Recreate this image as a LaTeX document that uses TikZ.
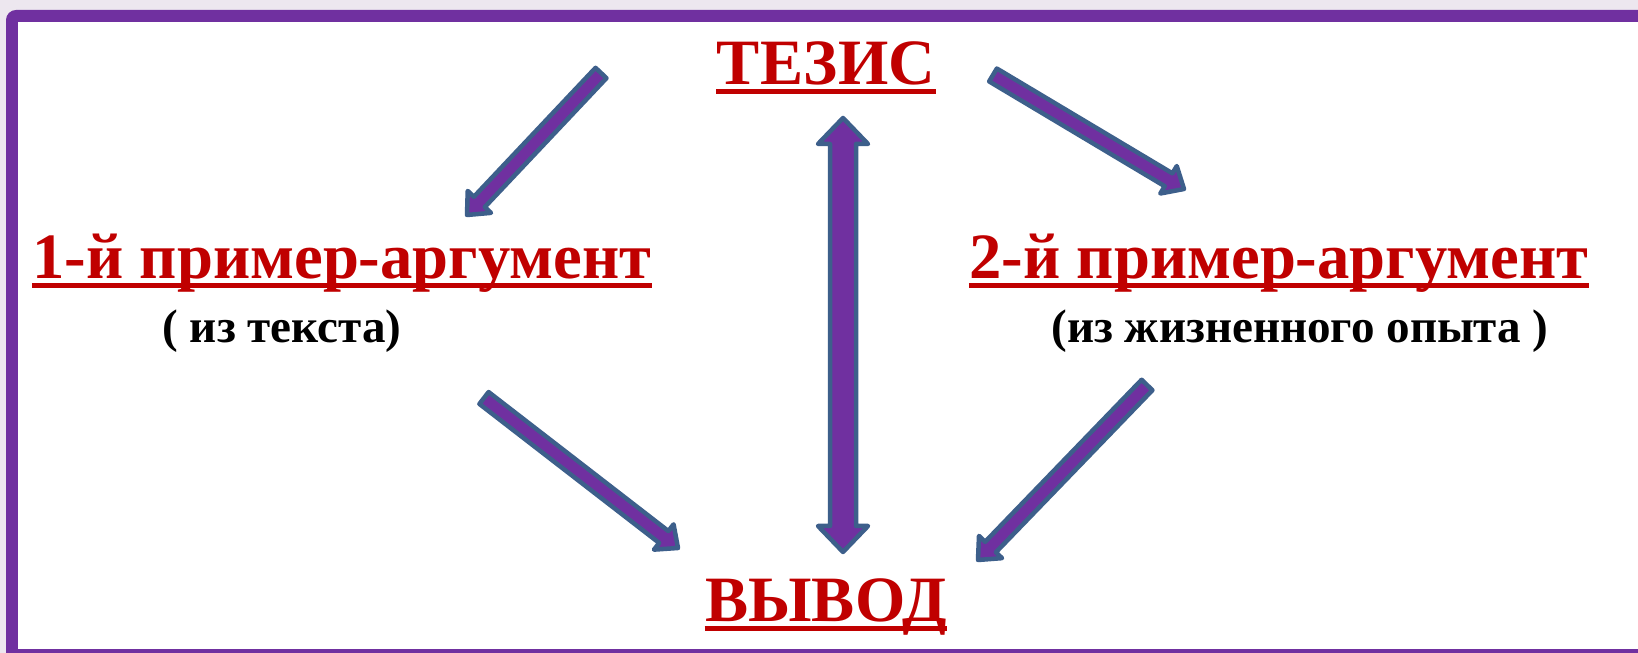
\documentclass[tikz,border=0pt]{standalone}
\usepackage{fontspec}
\setmainfont{Liberation Serif}
\usetikzlibrary{calc}
\definecolor{framepurple}{HTML}{7030A0}
\definecolor{arrowfill}{HTML}{7030A0}
\definecolor{arrowedge}{HTML}{3D5F8B}
\definecolor{headred}{HTML}{C00000}
\definecolor{outside}{HTML}{EDE7EF}
\tikzset{
	head/.style={text=headred, font=\bfseries\fontsize{18.4}{20}\selectfont, inner sep=0, anchor=base},
	sub/.style={text=black, font=\bfseries\fontsize{13.4}{15}\selectfont, inner sep=0, anchor=base},
	uline/.style={draw=headred, line width=0.5mm},
	barrow/.style={fill=arrowfill, draw=arrowedge, line width=0.45mm, line join=round}
}
\newcommand{\blockarrow}[5]{%
	\coordinate (h) at ($(#2)!#5!(#1)$);
	\filldraw[barrow] ($(#1)!#3!-90:(#2)$) -- ($(h)!#3!90:(#1)$) -- ($(h)!#4!90:(#1)$) -- (#2)
		-- ($(h)!#4!-90:(#1)$) -- ($(h)!#3!-90:(#1)$) -- ($(#1)!#3!90:(#2)$) -- cycle;
}
\newcommand{\dblockarrow}[5]{%
	\coordinate (h1) at ($(#1)!#5!(#2)$);
	\coordinate (h2) at ($(#2)!#5!(#1)$);
	\filldraw[barrow] (#1) -- ($(h1)!#4!-90:(#2)$) -- ($(h1)!#3!-90:(#2)$) -- ($(h2)!#3!90:(#1)$)
		-- ($(h2)!#4!90:(#1)$) -- (#2) -- ($(h2)!#4!-90:(#1)$) -- ($(h2)!#3!-90:(#1)$)
		-- ($(h1)!#3!90:(#2)$) -- ($(h1)!#4!90:(#2)$) -- cycle;
}
\begin{document}
\begin{tikzpicture}[x=0.1mm, y=-0.1mm]
		\useasboundingbox (0,0) rectangle (1638,653);
		\fill[outside] (0,0) rectangle (1638,653);
		\fill[framepurple, rounded corners=1mm] (6,10) rectangle (1700,700);
		\fill[white] (18,22) rectangle (1700,649);
		\path (826,85) node(tezis)[head]{ТЕЗИС}
		(342,279) node(arg1)[head]{1-й пример-аргумент\ }
		(282,343) node(src1)[sub]{( из текста)}
		(1279,279) node(arg2)[head]{2-й пример-аргумент}
		(1300,343) node(src2)[sub]{(из жизненного опыта )}
		(826,622) node(vyvod)[head]{ВЫВОД};
		\foreach \n in {tezis,arg1,arg2,vyvod}
			\draw[uline] ([yshift=-0.7mm]\n.base west) -- ([yshift=-0.7mm]\n.base east);
		\coordinate (a1) at (601,73);
		\coordinate (a2) at (467,215);
		\coordinate (b1) at (993,75);
		\coordinate (b2) at (1184,189);
		\coordinate (c1) at (484,398);
		\coordinate (c2) at (678,548);
		\coordinate (d1) at (1147,385);
		\coordinate (d2) at (978,560);
		\coordinate (v1) at (843,118);
		\coordinate (v2) at (843,552);
		\blockarrow{a1}{a2}{0.75mm}{1.6mm}{1.8mm}
		\blockarrow{b1}{b2}{0.75mm}{1.6mm}{1.8mm}
		\blockarrow{c1}{c2}{0.75mm}{1.6mm}{1.8mm}
		\blockarrow{d1}{d2}{0.75mm}{1.6mm}{1.8mm}
		\dblockarrow{v1}{v2}{1.3mm}{2.5mm}{2.6mm}
\end{tikzpicture}
\end{document}
